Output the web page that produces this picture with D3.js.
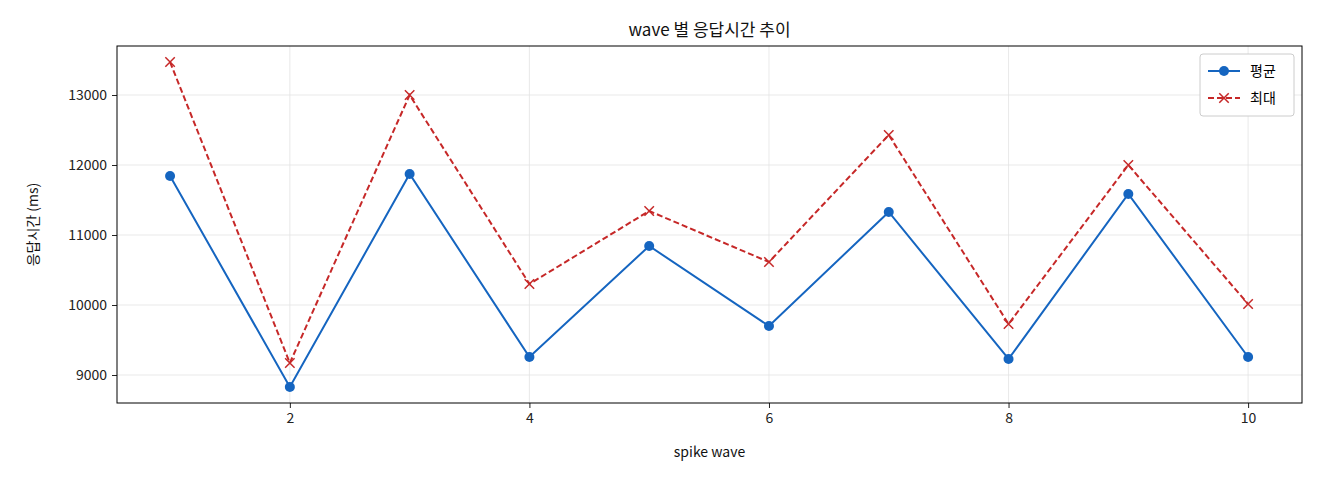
<!DOCTYPE html>
<html>
<head>
<meta charset="utf-8">
<script src="https://cdn.jsdelivr.net/npm/d3@7"></script>
<style>
body { margin: 0; background: #fff; }
text { font-family: "Noto Sans CJK KR", "DejaVu Sans", sans-serif; }
</style>
</head>
<body>
<svg id="chart" width="1320" height="480"></svg>
<script>
const waves = [1, 2, 3, 4, 5, 6, 7, 8, 9, 10];
const avgMs = [11843, 8829, 11871, 9257, 10843, 9700, 11329, 9229, 11586, 9257];
const maxMs = [13471, 9171, 13000, 10300, 11343, 10614, 12429, 9729, 12000, 10014];
const xTicks = [2, 4, 6, 8, 10];
const yTicks = [9000, 10000, 11000, 12000, 13000];

const svg = d3.select("#chart");
const pLeft = 117, pRight = 1302, pTop = 46, pBottom = 403;

const x = d3.scaleLinear().domain([0.557, 10.45]).range([pLeft, pRight]);
const y = d3.scaleLinear().domain([8600, 13700]).range([pBottom, pTop]);

// grid
svg.append("g").selectAll("line").data(xTicks).join("line")
  .attr("x1", d => x(d)).attr("x2", d => x(d)).attr("y1", pTop).attr("y2", pBottom)
  .attr("stroke", "#e3e3e3").attr("stroke-width", 0.8);
svg.append("g").selectAll("line").data(yTicks).join("line")
  .attr("y1", d => y(d)).attr("y2", d => y(d)).attr("x1", pLeft).attr("x2", pRight)
  .attr("stroke", "#e3e3e3").attr("stroke-width", 0.8);

// axes
const xAxis = svg.append("g").attr("transform", `translate(0,${pBottom})`)
  .call(d3.axisBottom(x).tickValues(xTicks).tickSize(5).tickPadding(5));
const yAxis = svg.append("g").attr("transform", `translate(${pLeft},0)`)
  .call(d3.axisLeft(y).tickValues(yTicks).tickSize(5).tickPadding(5).tickFormat(d3.format("d")));
[xAxis, yAxis].forEach(a => {
  a.select(".domain").remove();
  a.selectAll("text").attr("font-size", 14).attr("fill", "#222");
  a.selectAll("line").attr("stroke", "#222");
});

svg.append("rect").attr("x", pLeft).attr("y", pTop).attr("width", pRight - pLeft).attr("height", pBottom - pTop)
  .attr("fill", "none").attr("stroke", "#000").attr("stroke-width", 1);

// lines
const line = (vals) => d3.line().x((d, i) => x(waves[i])).y(d => y(d))(vals);
svg.append("path").attr("d", line(maxMs)).attr("fill", "none")
  .attr("stroke", "#c62828").attr("stroke-width", 2).attr("stroke-dasharray", "6,3");
svg.append("path").attr("d", line(avgMs)).attr("fill", "none")
  .attr("stroke", "#1565c0").attr("stroke-width", 2);

svg.append("g").selectAll("circle").data(avgMs).join("circle")
  .attr("cx", (d, i) => x(waves[i])).attr("cy", d => y(d)).attr("r", 5).attr("fill", "#1565c0");
const cross = d3.symbol().type(d3.symbolX).size(60);
svg.append("g").selectAll("path").data(maxMs).join("path")
  .attr("d", cross)
  .attr("transform", (d, i) => `translate(${x(waves[i])},${y(d)})`)
  .attr("fill", "none").attr("stroke", "#c62828").attr("stroke-width", 1.5);

// titles
svg.append("text").attr("x", (pLeft + pRight) / 2).attr("y", 36).attr("text-anchor", "middle")
  .attr("font-size", 17).attr("fill", "#111").text("wave 별 응답시간 추이");
svg.append("text").attr("x", (pLeft + pRight) / 2).attr("y", 457).attr("text-anchor", "middle")
  .attr("font-size", 14).attr("fill", "#111").text("spike wave");
svg.append("text").attr("transform", `translate(38,${(pTop + pBottom) / 2}) rotate(-90)`)
  .attr("text-anchor", "middle").attr("font-size", 14).attr("fill", "#111").text("응답시간 (ms)");

// legend
const lg = svg.append("g").attr("transform", "translate(1200,54)");
lg.append("rect").attr("width", 94).attr("height", 62).attr("rx", 3)
  .attr("fill", "#fff").attr("stroke", "#ccc");
lg.append("line").attr("x1", 8).attr("x2", 40).attr("y1", 17).attr("y2", 17)
  .attr("stroke", "#1565c0").attr("stroke-width", 2);
lg.append("circle").attr("cx", 24).attr("cy", 17).attr("r", 5).attr("fill", "#1565c0");
lg.append("text").attr("x", 50).attr("y", 22).attr("font-size", 14).text("평균");
lg.append("line").attr("x1", 8).attr("x2", 40).attr("y1", 44).attr("y2", 44)
  .attr("stroke", "#c62828").attr("stroke-width", 2).attr("stroke-dasharray", "6,3");
lg.append("path").attr("d", cross).attr("transform", "translate(24,44)")
  .attr("fill", "none").attr("stroke", "#c62828").attr("stroke-width", 1.5);
lg.append("text").attr("x", 50).attr("y", 49).attr("font-size", 14).text("최대");
</script>
</body>
</html>
